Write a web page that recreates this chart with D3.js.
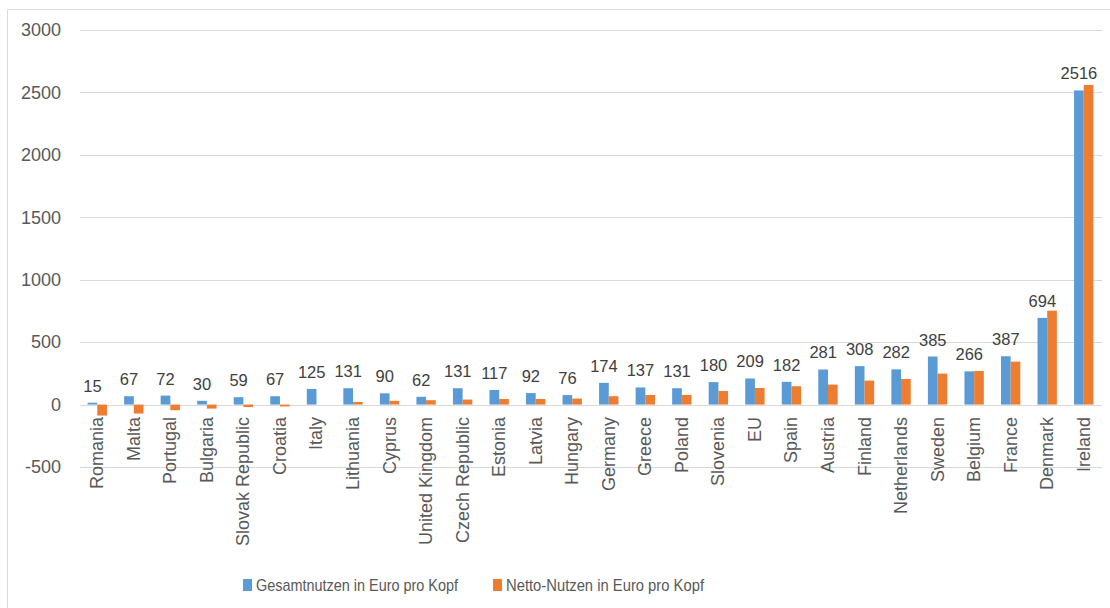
<!DOCTYPE html>
<html>
<head>
<meta charset="utf-8">
<script src="https://cdn.jsdelivr.net/npm/d3@7"></script>
<style>
  html, body { margin: 0; padding: 0; background: #fff; }
  svg { display: block; font-family: "Liberation Sans", Arial, sans-serif; }
</style>
</head>
<body>
<svg id="chart" width="1110" height="608"></svg>
<script>
const categories = ["Romania","Malta","Portugal","Bulgaria","Slovak Republic","Croatia","Italy","Lithuania","Cyprus","United Kingdom","Czech Republic","Estonia","Latvia","Hungary","Germany","Greece","Poland","Slovenia","EU","Spain","Austria","Finland","Netherlands","Sweden","Belgium","France","Denmark","Ireland"];
const gesamt = [15,67,72,30,59,67,125,131,90,62,131,117,92,76,174,137,131,180,209,182,281,308,282,385,266,387,694,2516];
const netto = [-88,-72,-45,-32,-20,-15,0,21,30,35,40,45,45,48,67,77,77,109,133,147,160,192,205,248,269,344,752,2560];
const yTicks = [-500,0,500,1000,1500,2000,2500,3000];
const seriesNames = ["Gesamtnutzen in Euro pro Kopf","Netto-Nutzen in Euro pro Kopf"];
const colors = ["#5B9BD5","#ED7D31"];
</script>
<script>
const svg = d3.select("#chart");

// border
svg.append("path").attr("d","M7.5,608 L7.5,9.5 L1110,9.5").attr("fill","none").attr("stroke","#d9d9d9");

const x = d3.scaleBand().domain(categories).range([79, 1102]).paddingInner(0.47).paddingOuter(0.235);
const xs = d3.scaleBand().domain([0,1]).range([0, x.bandwidth()]);
const y = d3.scaleLinear().domain([-500, 3000]).range([467, 30]);

// gridlines
svg.append("g").selectAll("line").data(yTicks).join("line")
  .attr("x1", 80).attr("x2", 1102)
  .attr("y1", d => Math.round(y(d)) + 0.5).attr("y2", d => Math.round(y(d)) + 0.5)
  .attr("stroke", "#d9d9d9").attr("stroke-width", 1);

// y axis labels
const yAxis = d3.axisLeft(y).tickValues(yTicks).tickFormat(d => String(d)).tickSize(0).tickPadding(0);
const gy = svg.append("g").attr("transform", "translate(61,0)").call(yAxis);
gy.select(".domain").remove();
gy.selectAll("text").attr("font-size", 18).attr("fill", "#595959")
  .attr("font-family", "Liberation Sans, Arial, sans-serif");

// bars
const data = categories.map((c, i) => ({c, vals: [gesamt[i], netto[i]]}));
const groups = svg.append("g").selectAll("g").data(data).join("g")
  .attr("transform", d => `translate(${x(d.c)},0)`);
groups.selectAll("rect").data(d => d.vals.map((v, k) => ({v, k}))).join("rect")
  .attr("x", d => xs(d.k))
  .attr("width", xs.bandwidth())
  .attr("y", d => y(Math.max(0, d.v)))
  .attr("height", d => Math.abs(y(d.v) - y(0)))
  .attr("fill", d => colors[d.k]);

// data labels
svg.append("g").selectAll("text").data(data).join("text")
  .attr("x", d => x(d.c) + xs(0) + xs.bandwidth() / 2)
  .attr("y", d => y(d.vals[0]) - 11)
  .attr("text-anchor", "middle")
  .attr("font-size", 16.5)
  .attr("fill", "#404040")
  .text(d => d.vals[0]);

// category labels
const xAxis = d3.axisBottom(x).tickSize(0).tickPadding(0);
const gx = svg.append("g").call(xAxis);
gx.select(".domain").remove();
gx.selectAll(".tick text")
  .attr("transform", "translate(6,417) rotate(-90)")
  .attr("x", 0).attr("y", 0).attr("dy", 0)
  .attr("text-anchor", "end")
  .attr("font-size", 18).attr("fill", "#595959")
  .attr("font-family", "Liberation Sans, Arial, sans-serif");

// legend
const legX = [243, 493];
const legW = [202, 198];
const leg = svg.append("g").selectAll("g").data(seriesNames).join("g")
  .attr("transform", (d, i) => `translate(${legX[i]},579)`);
leg.append("rect").attr("width", 9).attr("height", 12).attr("fill", (d, i) => colors[i]);
leg.append("text").attr("x", 13).attr("y", 12)
  .attr("font-size", 17).attr("fill", "#595959")
  .attr("textLength", (d, i) => legW[i]).attr("lengthAdjust", "spacingAndGlyphs")
  .text(d => d);
</script>
</body>
</html>
